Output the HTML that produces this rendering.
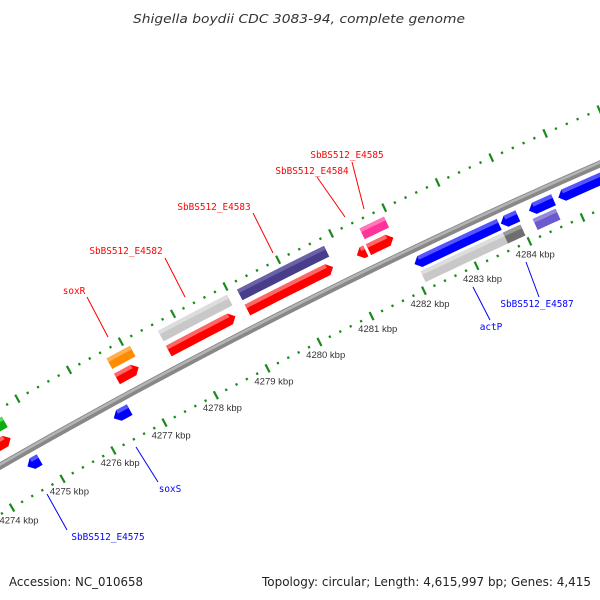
<!DOCTYPE html>
<html><head><meta charset="utf-8"><style>
html,body{margin:0;padding:0;background:#fff;}
svg{display:block;}
</style></head><body>
<svg id="chart" width="600" height="600" viewBox="0 0 600 600" xmlns="http://www.w3.org/2000/svg">
<rect x="0" y="0" width="600" height="600" fill="#fff"/>
<text x="299" y="23" text-anchor="middle" font-family="DejaVu Sans, Liberation Sans, sans-serif" font-style="italic" font-size="12.5" fill="#333" textLength="332" lengthAdjust="spacingAndGlyphs">Shigella boydii CDC 3083-94, complete genome</text>
<g id="ticks"></g>
<g id="backbone"></g>
<g id="features"></g>
<g id="labels"></g>
<text x="9" y="586" font-family="DejaVu Sans, Liberation Sans, sans-serif" font-size="12" fill="#222" textLength="134" lengthAdjust="spacingAndGlyphs">Accession: NC_010658</text>
<text x="262" y="586" font-family="DejaVu Sans, Liberation Sans, sans-serif" font-size="12" fill="#222" textLength="329" lengthAdjust="spacingAndGlyphs">Topology: circular; Length: 4,615,997 bp; Genes: 4,415</text>
</svg>
<script>
// ---- data ----
var tickLabelKbp = [4274,4275,4276,4277,4278,4279,4280,4281,4282,4283,4284];
var geneStart = [4273.8,4273.8,4274.58,4276.27,4276.65,4276.64,4277.64,4277.64,4279.15,4279.15,4281.47,4281.23,4281.45,4282.05,4283.68,4284.21,4284.76,4282.09,4283.65,4284.21];
var geneEnd   = [4274.62,4274.57,4274.82,4276.58,4277.10,4277.06,4278.96,4278.92,4280.80,4280.78,4281.93,4281.40,4281.92,4283.65,4284.00,4284.67,4286.50,4283.65,4283.98,4284.64];
var geneTrack = ['fo','fi','ri','ri','fo','fi','fo','fi','fo','fi','fo','fi','fi','ri','ri','ri','ri','ro','ro','ro'];
var geneShape = ['box','fwd','rev','rev','box','fwd','box','fwd','box','fwd','box','rev','fwd','rev','rev','rev','rev','box','box','box'];
var geneColor = ['#11aa11','#ff0000','#0000ff','#0000ff','#ff8c00','#ff0000','#c8c8c8','#ff0000','#483d8b','#ff0000','#ff3399','#ff0000','#ff0000','#0000ff','#0000ff','#0000ff','#0000ff','#c8c8c8','#6e6e6e','#6a5acd'];
var geneLight = ['#55dd55','#ff6666','#5555ff','#5555ff','#ffb050','#ff6666','#dddddd','#ff6666','#6a62a8','#ff6666','#ff77bb','#ff6666','#ff6666','#5555ff','#5555ff','#5555ff','#5555ff','#dddddd','#999999','#9488e0'];
var geneNames = ['gene-green','gene-red-left','gene-E4575','gene-soxS','gene-soxR','gene-soxR-arrow','gene-E4582','gene-E4582-arrow','gene-E4583','gene-E4583-arrow','gene-E4585','gene-E4584-fragment','gene-E4584','gene-actP','gene-actP-2','gene-E4587','gene-right-blue','gene-actP-grey','gene-actP-dark','gene-E4587-box'];
var labelText = ['soxR','SbBS512_E4582','SbBS512_E4583','SbBS512_E4584','SbBS512_E4585','SbBS512_E4575','soxS','actP','SbBS512_E4587'];

// ---- geometry ----
var CX=3060, CY=5795, RBB=6145;
var trackR = {fo:6181, fi:6164, ri:6131, ro:6116};
var HALF=6;
function ang(k){return (-115.59+(k-4282)*0.5465)*Math.PI/180;}
function pt(r,a){return [CX+r*Math.cos(a), CY+r*Math.sin(a)];}
function f(p){return p[0].toFixed(2)+','+p[1].toFixed(2);}
function arc(r,a1,a2,n){var o=[];for(var i=0;i<=n;i++){o.push(pt(r,a1+(a2-a1)*i/n));}return o;}
var NS='http://www.w3.org/2000/svg';
function mk(tag,parent){var e=document.createElementNS(NS,tag);parent.appendChild(e);return e;}

// ticks
var tg=document.getElementById('ticks');
for (var t=42730; t<=42880; t+=2){
  var k=t/10, a=ang(k), major=(t%10===0);
  [[6103],[6195]].forEach(function(ring){
    var r=ring[0], h=major?4.5:1.2;
    var p1=pt(r-h,a), p2=pt(r+h,a);
    var ln=mk('line',tg);
    
    
    ln.setAttribute('x1',p1[0]);ln.setAttribute('y1',p1[1]);
    ln.setAttribute('x2',p2[0]);ln.setAttribute('y2',p2[1]);
    ln.setAttribute('stroke','#1a8a1a');ln.setAttribute('stroke-width','2.2');
  });
}
tickLabelKbp.forEach(function(k){
  var p=pt(6089,ang(k));
  var tx=mk('text',tg);
  
  
  tx.setAttribute('x',p[0]);tx.setAttribute('y',p[1]+3.5);
  tx.setAttribute('text-anchor','middle');
  tx.setAttribute('font-family','Liberation Sans, DejaVu Sans, sans-serif');
  tx.setAttribute('font-size','9.5');tx.setAttribute('fill','#333');
  tx.textContent=k+' kbp';
});

// backbone
var bg=document.getElementById('backbone');
var bpts=arc(RBB,ang(4272.5),ang(4288),40).map(f).join(' ');
[['#888',7],['#b4b4b4',2.5]].forEach(function(s,i){
  var pl=mk('polyline',bg);
  
  
  pl.setAttribute('points',bpts);pl.setAttribute('fill','none');
  pl.setAttribute('stroke',s[0]);pl.setAttribute('stroke-width',s[1]);
  if(i===1){pl.setAttribute('transform','translate(-0.6,-1.2)');}
});

// features
var fg=document.getElementById('features');
var HEAD=0.1;
for (var i=0;i<geneStart.length;i++){
  var rc=trackR[geneTrack[i]], r1=rc-HALF, r2=rc+HALF;
  var a1=ang(geneStart[i]), a2=ang(geneEnd[i]);
  var sh=geneShape[i], hl=ang(geneStart[i]+HEAD)-a1;
  var b1=a1, b2=a2, pts=[];
  if(sh==='fwd'){b2=a2-hl;}
  if(sh==='rev'){b1=a1+hl;}
  var outer=arc(r2,b1,b2,6), inner=arc(r1,b2,b1,6);
  pts=outer.slice();
  if(sh==='fwd'){pts.push(pt(rc,a2));}
  pts=pts.concat(inner);
  if(sh==='rev'){pts.push(pt(rc,a1));}
  var g=mk('g',fg);
  
  
  var pg=mk('polygon',g);
  
  
  pg.setAttribute('points',pts.map(f).join(' '));
  pg.setAttribute('fill',geneColor[i]);
  var s1=arc(r2,b1,b2,6), s2=arc(r2-4,b2,b1,6);
  var st=mk('polygon',g);
  
  
  st.setAttribute('points',s1.concat(s2).map(f).join(' '));
  st.setAttribute('fill',geneLight[i]);
}

// labels (annotation layout)
var lg=document.getElementById('labels');
var labelX=[74,126,214,312,347,108,170,491,537];
var labelY=[294,254,210,174,158,540,492,330,307];
var labelCol=['#f00','#f00','#f00','#f00','#f00','#00f','#00f','#00f','#00f'];
var lineA=[[87,297],[165,258],[253,213],[317,177],[352,162],[47,494],[136,447],[473,287],[526,262]];
var lineB=[[108,337],[185,297],[273,253],[345,217],[364,209],[67,530],[158,482],[490,320],[539,297]];
for (var j=0;j<labelText.length;j++){
  var ln=mk('line',lg);
  
  
  ln.setAttribute('x1',lineA[j][0]);ln.setAttribute('y1',lineA[j][1]);
  ln.setAttribute('x2',lineB[j][0]);ln.setAttribute('y2',lineB[j][1]);
  ln.setAttribute('stroke',labelCol[j]);ln.setAttribute('stroke-width','1');
  var tx=mk('text',lg);
  
  
  tx.setAttribute('x',labelX[j]);tx.setAttribute('y',labelY[j]);
  tx.setAttribute('text-anchor','middle');
  tx.setAttribute('font-family','DejaVu Sans Mono, Liberation Mono, monospace');
  tx.setAttribute('font-size','9.4');tx.setAttribute('fill',labelCol[j]);
  tx.textContent=labelText[j];
}
</script>
</body></html>
